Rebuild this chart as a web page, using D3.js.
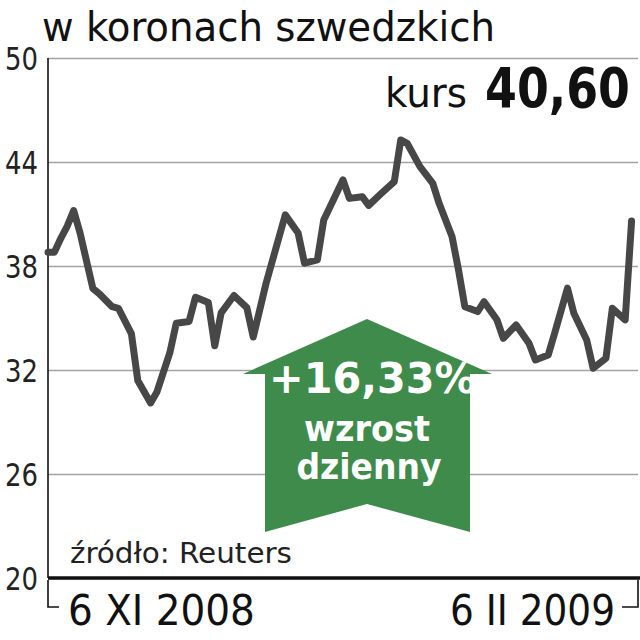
<!DOCTYPE html>
<html><head><meta charset="utf-8">
<script src="https://cdn.jsdelivr.net/npm/d3@7"></script>
<style>html,body{margin:0;padding:0;background:#fff}svg{display:block}</style>
</head><body>
<script>
// ---- data ----
const title = "w koronach szwedzkich";
const kursLabel = "kurs";
const kursValue = "40,60";
const source = "źródło: Reuters";
const dateLabels = ["6 XI 2008", "6 II 2009"];
const changeLabel = ["+16,33%", "wzrost", "dzienny"];
const yTicks = [20, 26, 32, 38, 44, 50];
// days since 6 XI 2008
const days = [0,1,2,3,4,5,7,8,10,11,13,14,16,17,19,20,22,23,25,26,27,29,31,32,34,37,39,40,42,43,46,47,49,50,52,54,55,56,58,60,61,63,64,65,67,68,70,71,73,75,76,78,79,81,82,84,85,87,88,90,91];
const values = [38.8,38.8,39.6,40.3,41.2,39.9,36.7,36.4,35.65,35.55,34.1,31.4,30.1,30.75,33.0,34.7,34.8,36.2,35.9,33.4,35.3,36.3,35.6,33.9,37.0,40.95,39.9,38.16,38.35,40.66,42.97,41.9,42.0,41.5,42.2,42.87,45.27,45.08,43.73,42.77,41.6,39.7,37.8,35.65,35.37,35.94,34.9,33.83,34.6,33.54,32.58,32.87,34.12,36.72,35.27,33.73,32.1,32.68,35.56,34.89,40.6];

const W = 640, H = 640;
const svg = d3.select("body").append("svg").attr("width", W).attr("height", H);
const FONT = "'Liberation Sans Narrow','DejaVu Sans Condensed','Liberation Sans',sans-serif";

// text squeezed horizontally to a target width
function fitText(str, x0, y0, width, size, opts = {}) {
  const t = svg.append("text").attr("x", 0).attr("y", 0).attr("font-family", FONT)
    .attr("font-size", size).attr("fill", opts.fill || "#111")
    .attr("font-weight", opts.bold ? "bold" : "normal").text(str);
  const w = t.node().getComputedTextLength();
  let left = x0;
  if (opts.anchor === "end") left = x0 - width;
  if (opts.anchor === "middle") left = x0 - width / 2;
  t.attr("transform", `translate(${left},${y0}) scale(${width / w},1)`);
  return t;
}

const x = d3.scaleLinear().domain([0, 92]).range([48, 638]);
const y = d3.scaleLinear().domain([20, 50]).range([578, 58]);

// gridlines + y labels
const yAxis = d3.axisLeft(y).tickValues(yTicks).tickSize(-(x.range()[1] - x.range()[0])).tickPadding(10).tickFormat(d3.format("d"));
const gy = svg.append("g").attr("transform", `translate(${x.range()[0]},0)`).call(yAxis);
gy.select(".domain").remove();
gy.selectAll(".tick line").attr("stroke", "#a3a3a3").attr("stroke-width", 1.6);
gy.selectAll(".tick text").remove();
yTicks.forEach(v => fitText(String(v), 38, y(v) + 11.5, 33, 32, { anchor: "end", fill: "#222" }));

// left axis line
svg.append("line").attr("x1", x.range()[0]).attr("x2", x.range()[0]).attr("y1", y(50)).attr("y2", y(20)).attr("stroke", "#111").attr("stroke-width", 1.6);
// bottom axis
svg.append("line").attr("x1", x.range()[0]).attr("x2", 640).attr("y1", y(20)).attr("y2", y(20)).attr("stroke", "#111").attr("stroke-width", 3.5);
// brackets
svg.append("path").attr("d", `M${x(0)},${y(20)+2}V${y(20)+29}H${x(0)+11}`).attr("fill", "none").attr("stroke", "#111").attr("stroke-width", 1.6);
svg.append("path").attr("d", `M${x(92)},${y(20)+2}V${y(20)+29}H${x(92)-16}`).attr("fill", "none").attr("stroke", "#111").attr("stroke-width", 1.6);

// date labels
fitText(dateLabels[0], x(0) + 20, 625, 187, 43);
fitText(dateLabels[1], x(92) - 23, 625, 165, 43, { anchor: "end" });

// arrow
const ax = 367;
const arrow = [[ax, 319], [492, 374], [470, 374], [470, 532], [ax, 504], [265, 532], [265, 374], [243, 374]];
svg.append("path").attr("d", "M" + arrow.map(p => p.join(",")).join("L") + "Z").attr("fill", "#3f8b4b");

// line
const line = d3.line().x((d, i) => x(days[i])).y(d => y(d));
svg.append("path").datum(values).attr("d", line).attr("fill", "none").attr("stroke", "#474747").attr("stroke-width", 7).attr("stroke-linejoin", "round").attr("stroke-linecap", "round");

// arrow text
fitText(changeLabel[0], 269, 393, 207, 42, { bold: true, fill: "#fff" });
fitText(changeLabel[1], ax, 441, 126, 35, { bold: true, fill: "#fff", anchor: "middle" });
fitText(changeLabel[2], ax + 2, 479, 145, 35, { bold: true, fill: "#fff", anchor: "middle" });

// title
fitText(title, 42, 41, 453, 41);
// kurs
fitText(kursLabel, 385, 107, 82, 41);
fitText(kursValue, 485, 107, 145, 55, { bold: true });

// source
fitText(source, 70, 563, 222, 29, { fill: "#222" });
</script>
</body></html>
